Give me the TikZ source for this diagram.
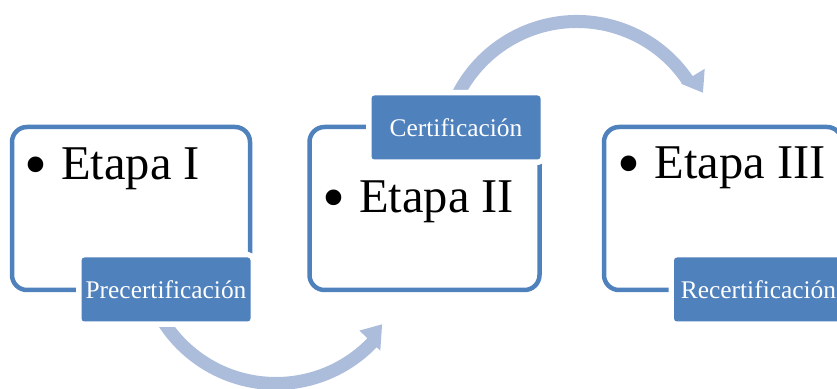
\documentclass[tikz,border=0pt]{standalone}
\usepackage{fontspec}
\setmainfont{Liberation Serif}
\usetikzlibrary{positioning}
\definecolor{stageblue}{HTML}{4F81BD}
\definecolor{flowblue}{RGB}{172,189,220}
\newcommand{\stagedot}{\raisebox{-7pt}{\scalebox{1.35}{\textbullet}}}

\begin{document}
\begin{tikzpicture}[x=1pt,y=1pt,
		stage/.style={draw=stageblue,line width=4.5pt,rounded corners=15pt,minimum height=163pt,outer sep=0pt,inner sep=0pt},
		tag/.style={fill=stageblue,text=white,rounded corners=3pt,minimum width=169pt,minimum height=64pt,outer sep=0pt,inner sep=0pt,font=\fontsize{25.4}{30}\selectfont,preaction={draw=white,line width=11pt}},
		bigtext/.style={anchor=base west,inner sep=0pt,font=\fontsize{48.5}{58}\selectfont},
		flow/.style={fill=flowblue}]
		\useasboundingbox (0,0) rectangle (837,388);
		\node[stage,minimum width=238pt] (st1) at (131,179.5) {};
		\node[stage,minimum width=230pt] (st2) at (424.5,179.5) {};
		\node[stage,minimum width=238pt] (st3) at (723,179.5) {};
		
		% circular arrows
		\coordinate (turnlow) at (276,138);
		\coordinate (turnhigh) at (577,233);
		\begin{scope}[shift={(turnlow)}]
			\fill[flow] (200:140) arc[start angle=200,end angle=316,radius=140] -- (316:145) -- (325:129.5) -- (316:116) -- (316:127) arc[start angle=316,end angle=200,radius=127] -- cycle;
		\end{scope}
		\begin{scope}[shift={(turnhigh)}]
			\fill[flow] (165:140) arc[start angle=165,end angle=34.3,radius=140] -- (34:154) -- (26.3:140.5) -- (34.5:126) -- (34.3:127) arc[start angle=34.3,end angle=165,radius=127] -- cycle;
		\end{scope}
		
		\node[tag,anchor=east,shift={(0.5,0.5)}] (tg1) at (st1.south east) {Precertificación};
		\node[tag,anchor=east,shift={(1,-0.5)}] (tg2) at (st2.north east) {Certificación};
		\node[tag,anchor=east,shift={(1,0.5)}] (tg3) at (st3.south east) {Recertificación};
		
		\node[bigtext,shift={(12,-53)}] (et1) at (st1.north west) {\stagedot\hspace{14pt}Etapa I};
		\node[bigtext,shift={(12.5,-85.7)}] (et2) at (st2.north west) {\stagedot\hspace{14pt}Etapa II};
		\node[bigtext,shift={(13.5,-51.3)}] (et3) at (st3.north west) {\stagedot\hspace{14pt}Etapa III};
	\end{tikzpicture}
\end{document}
